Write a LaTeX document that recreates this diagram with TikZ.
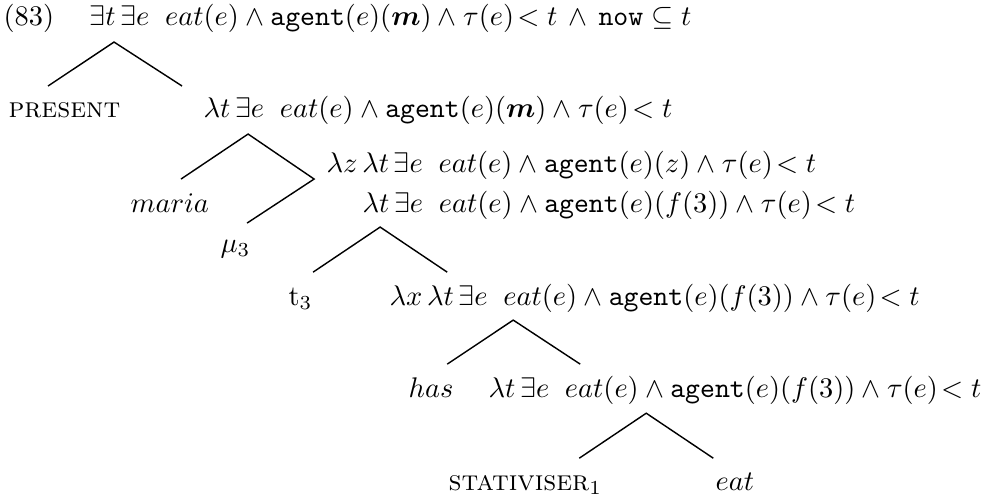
\documentclass[tikz,border=0pt]{standalone}
\usepackage{amsmath}
\usepackage{tikz}
\usetikzlibrary{positioning,calc}

\begin{document}
\begin{tikzpicture}[scale=1.071, every node/.style={inner sep=0pt, anchor=base west}, branch/.style={line width=0.5pt}]
        \useasboundingbox (0,0) rectangle (11.42,-5.757);
        % Labels
        \node (num) at (0.035,-0.295) {(83)};
        \node (root) at (1.029,-0.295) {$\exists t\,\exists e\;\; eat(e)\wedge\texttt{agent}(e)(\boldsymbol{m})\wedge\tau(e)\!<t\,\wedge\,\texttt{now}\subseteq t$};
        \node (present) at (0.092,-1.353) {\textsc{present}};
        \node (lt) at (2.347,-1.353) {$\lambda t\,\exists e\;\; eat(e)\wedge\texttt{agent}(e)(\boldsymbol{m})\wedge\tau(e)\!<t$};
        \node (lz) at (3.769,-1.988) {$\lambda z\,\lambda t\,\exists e\;\; eat(e)\wedge\texttt{agent}(e)(z)\wedge\tau(e)\!<t$};
        \node (maria) at (1.503,-2.451) {$maria$};
        \node (ltf) at (4.185,-2.451) {$\lambda t\,\exists e\;\; eat(e)\wedge\texttt{agent}(e)(f(3))\wedge\tau(e)\!<t$};
        \node (mu) at (2.543,-2.913) {$\mu_3$};
        \node (trace) at (3.329,-3.526) {t$_3$};
        \node (lx) at (4.497,-3.526) {$\lambda x\,\lambda t\,\exists e\;\; eat(e)\wedge\texttt{agent}(e)(f(3))\wedge\tau(e)\!<t$};
        \node (has) at (4.717,-4.590) {$has$};
        \node (ltb) at (5.642,-4.590) {$\lambda t\,\exists e\;\; eat(e)\wedge\texttt{agent}(e)(f(3))\wedge\tau(e)\!<t$};
        \node (stat) at (5.179,-5.665) {\textsc{stativiser}$_1$};
        \node (eat) at (8.266,-5.665) {$eat$};
        % Branch points
        \coordinate (a1) at (1.318,-0.486);
        \coordinate (l1) at (0.555,-0.994);
        \coordinate (r1) at (2.104,-0.994);
        \coordinate (a2) at (2.867,-1.549);
        \coordinate (l2) at (2.092,-2.069);
        \coordinate (r2) at (3.630,-2.069);
        \coordinate (m2) at (2.855,-2.578);
        \coordinate (a3) at (4.393,-2.624);
        \coordinate (l3) at (3.618,-3.145);
        \coordinate (r3) at (5.168,-3.145);
        \coordinate (a4) at (5.931,-3.699);
        \coordinate (l4) at (5.168,-4.208);
        \coordinate (r4) at (6.705,-4.208);
        \coordinate (a5) at (7.468,-4.775);
        \coordinate (l5) at (6.694,-5.295);
        \coordinate (r5) at (8.243,-5.295);
        % Branches
        \draw[branch] (l1) -- (a1) -- (r1);
        \draw[branch] (l2) -- (a2) -- (r2) -- (m2);
        \draw[branch] (l3) -- (a3) -- (r3);
        \draw[branch] (l4) -- (a4) -- (r4);
        \draw[branch] (l5) -- (a5) -- (r5);
    \end{tikzpicture}
\end{document}
